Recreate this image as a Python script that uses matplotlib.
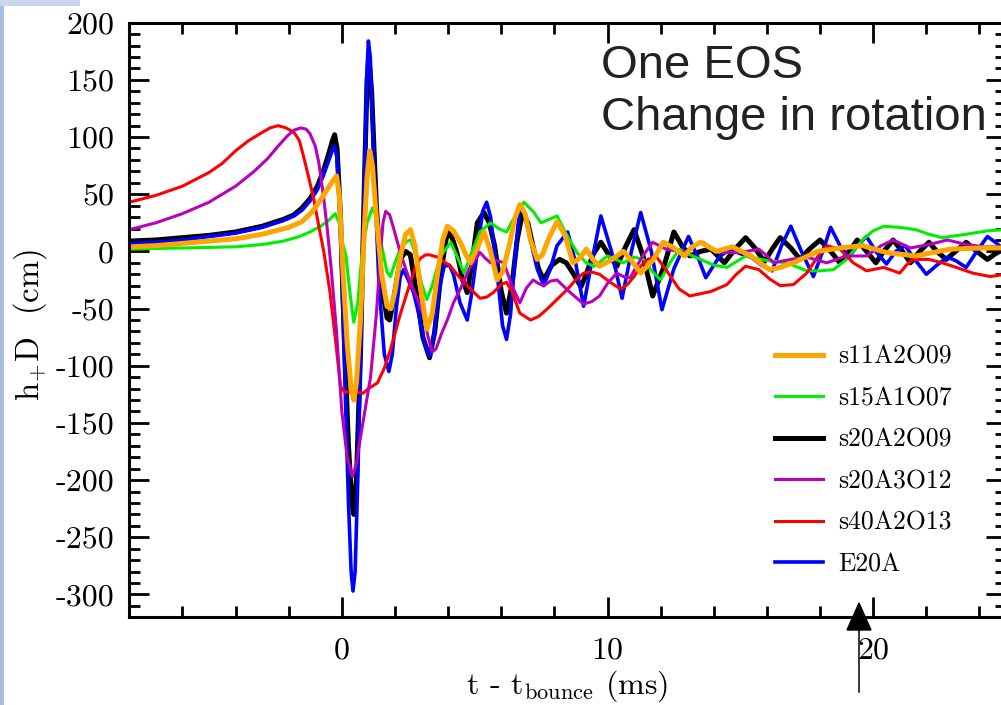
import matplotlib
matplotlib.use('Agg')
import matplotlib.pyplot as plt
from matplotlib.ticker import MultipleLocator
from matplotlib.patches import Polygon, Rectangle
from matplotlib.lines import Line2D

# ---------------- data: (t in ms, h+D in cm) ----------------
labels = ["s11A2O09", "s15A1O07", "s20A2O09", "s20A3O12", "s40A2O13", "E20A"]

s11A2O09 = [(-8, 4), (-7, 5), (-6, 7), (-5, 9), (-4, 11), (-3, 15), (-2, 21), (-1.5, 26),
            (-1.1, 35), (-0.8, 45), (-0.5, 56), (-0.3, 63), (-0.2, 66), (-0.1, 50), (0.05, -20),
            (0.2, -80), (0.35, -120), (0.45, -130), (0.55, -115), (0.7, -60), (0.85, 20),
            (0.95, 65), (1.05, 88), (1.15, 75), (1.3, 30), (1.5, -20), (1.7, -48), (1.85, -50),
            (2.0, -35), (2.2, -5), (2.4, 15), (2.58, 19), (2.75, 5), (2.95, -30), (3.2, -68),
            (3.4, -55), (3.6, -20), (3.8, 10), (3.97, 22), (4.2, 18), (4.46, 8), (4.65, -2),
            (4.84, -10), (5.1, 3), (5.35, 17), (5.6, 0), (5.85, -25), (6.05, -18), (6.3, 5),
            (6.5, 28), (6.7, 41), (6.9, 33), (7.1, 10), (7.35, -7), (7.55, -3), (7.8, 12),
            (8.1, 26), (8.4, 14), (8.7, -10), (8.95, -6), (9.2, 2), (9.45, -7), (9.7, -13),
            (10.1, -8), (10.6, 0), (10.9, -8), (11.25, -19), (11.7, -8), (12.1, 8), (12.5, 3),
            (12.9, -4), (13.2, 4), (13.5, 8), (14.1, 0), (14.7, 4), (15.4, -4), (16.1, -16),
            (16.5, -14), (17.0, -10), (17.9, 0), (18.75, 3), (19.6, 5), (20.5, -1), (21.6, -4),
            (22.9, 2), (24.1, 3), (25, 3)]

s15A1O07 = [(-8, 2), (-6, 3), (-4, 4), (-3, 6), (-2.2, 9), (-1.6, 13), (-1.2, 17), (-0.8, 22),
            (-0.5, 27), (-0.25, 33), (-0.1, 25), (0.05, 5), (0.15, -3), (0.3, -35), (0.45, -62),
            (0.6, -45), (0.75, -5), (0.95, 25), (1.15, 38), (1.3, 30), (1.5, 5), (1.7, -18),
            (1.83, -22), (2.0, -10), (2.2, 2), (2.45, 9), (2.6, 10), (2.8, -5), (3.0, -28),
            (3.2, -42), (3.4, -30), (3.7, -5), (4.1, 8), (4.35, -5), (4.6, -19), (4.9, 0),
            (5.2, 17), (5.6, 25), (5.9, 20), (6.2, 17), (6.5, 30), (6.85, 43), (7.2, 35),
            (7.5, 25), (7.8, 28), (8.1, 31), (8.45, 15), (8.85, -1), (9.2, -10), (9.5, -13),
            (10.0, -4), (10.6, -10), (11.0, -5), (11.35, -7), (11.7, -18), (12.0, -25),
            (12.35, -10), (12.7, 2), (13.1, -3), (13.5, -7), (14.0, -12), (14.5, -14),
            (15.2, -4), (16.0, -8), (16.75, -10), (17.5, -17), (18.0, -17), (18.5, -16),
            (19.0, -7), (19.6, 10), (20.0, 18), (20.4, 22), (21.0, 21), (21.6, 19), (22.1, 15),
            (22.6, 12), (23.5, 15), (24.3, 18), (25, 19)]

s20A2O09 = [(-8, 9), (-7, 10), (-6, 12), (-5, 14), (-4, 17), (-3, 22), (-2.2, 28), (-1.8, 32),
            (-1.5, 38), (-1.2, 46), (-0.92, 57), (-0.7, 70), (-0.5, 85), (-0.35, 97),
            (-0.27, 102), (-0.18, 90), (-0.05, 30), (0.1, -80), (0.25, -170), (0.38, -220),
            (0.45, -230), (0.55, -200), (0.7, -90), (0.85, 60), (0.95, 150), (1.02, 170),
            (1.12, 140), (1.3, 40), (1.5, -30), (1.7, -58), (1.8, -60), (2.0, -35), (2.2, -7),
            (2.4, 0), (2.58, -3), (2.8, -35), (3.05, -75), (3.3, -93), (3.5, -70), (3.75, -15),
            (3.97, 17), (4.15, 12), (4.33, -1), (4.55, -25), (4.72, -36), (4.9, -10), (5.1, 25),
            (5.35, 34), (5.55, 25), (5.75, 5), (6.0, -35), (6.2, -54), (6.4, -30), (6.6, 10),
            (6.8, 34), (7.0, 25), (7.2, 4), (7.4, -15), (7.6, -25), (7.9, -12), (8.2, -7),
            (8.45, -10), (8.7, -19), (9.0, -31), (9.2, -20), (9.45, -3), (9.75, 8), (10.05, -3),
            (10.35, -13), (10.7, 5), (11.0, 19), (11.35, -5), (11.7, -39), (12.1, -15),
            (12.5, 17), (12.8, 5), (13.1, -4), (13.5, 0), (13.9, 2), (14.4, -10), (14.8, 2),
            (15.2, 12), (15.55, 3), (15.9, -9), (16.2, 2), (16.5, 12), (16.9, 3), (17.25, -7),
            (17.6, 2), (18.0, 10), (18.4, 0), (18.75, -10), (19.1, 0), (19.4, 10), (19.75, 0),
            (20.1, -10), (20.4, 0), (20.75, 10), (21.1, 0), (21.4, -10), (21.75, 0), (22.1, 8),
            (22.4, 0), (22.75, -7), (23.1, 0), (23.5, 8), (23.9, 0), (24.3, -7), (24.6, -2),
            (25, 3)]

s20A3O12 = [(-8, 19), (-7, 25), (-6, 33), (-5, 43), (-4, 57), (-3.3, 70), (-2.8, 81),
            (-2.4, 92), (-2.05, 101), (-1.8, 106), (-1.55, 108), (-1.35, 107), (-1.2, 103),
            (-1.0, 92), (-0.87, 78), (-0.7, 50), (-0.55, 20), (-0.4, -15), (-0.2, -70),
            (0.0, -140), (0.2, -180), (0.4, -197), (0.55, -185), (0.7, -163), (0.9, -135),
            (1.08, -110), (1.3, -55), (1.46, 0), (1.55, 25), (1.65, 35), (1.8, 32), (1.95, 20),
            (2.2, -1), (2.4, -15), (2.58, -27), (2.85, -42), (3.08, -57), (3.25, -75),
            (3.4, -88), (3.55, -85), (3.75, -72), (3.97, -60), (4.2, -45), (4.46, -33),
            (4.8, -15), (5.2, -1), (5.4, -6), (5.6, -10), (5.85, -8), (6.1, -10), (6.4, -30),
            (6.7, -45), (6.95, -32), (7.2, -25), (7.4, -28), (7.6, -30), (7.85, -26),
            (8.1, -25), (8.6, -36), (9.1, -46), (9.4, -44), (9.7, -39), (10.0, -28),
            (10.35, -19), (10.6, -22), (10.85, -23), (11.3, -5), (11.7, 8), (12.2, 2),
            (12.9, -1), (13.25, 5), (13.6, 8), (13.9, 3), (14.25, -1), (15.0, -1), (15.7, 2),
            (16.0, -4), (16.25, -10), (16.9, -7), (17.5, -5), (18.25, -10), (19.0, -4),
            (19.75, -4), (20.3, 5), (20.75, 10), (21.4, 3), (22.1, 6), (22.8, 10), (23.5, 6),
            (24.2, 4), (25, 4)]

s40A2O13 = [(-8, 43), (-7, 49), (-6, 57), (-5, 69), (-4.5, 77), (-4, 88), (-3.5, 97), (-3, 104),
            (-2.7, 108), (-2.4, 110), (-2.1, 108), (-1.8, 104), (-1.6, 97), (-1.43, 82),
            (-1.25, 65), (-1.05, 45), (-0.85, 20), (-0.68, 0), (-0.45, -35), (-0.25, -75),
            (-0.05, -118), (0.1, -123), (0.4, -123), (0.8, -124), (1.0, -120), (1.34, -115),
            (1.6, -102), (1.83, -86), (2.2, -55), (2.58, -27), (2.8, -12), (2.96, -6),
            (3.15, -3), (3.3, -3), (3.6, -5), (4.09, -13), (4.4, -22), (4.72, -30), (5.2, -41),
            (5.45, -40), (5.7, -36), (6.0, -29), (6.2, -27), (6.4, -35), (6.7, -54), (7.1, -60),
            (7.4, -57), (7.7, -51), (8.1, -42), (8.5, -33), (8.8, -25), (9.1, -19), (9.4, -18),
            (9.7, -20), (10.1, -27), (10.5, -33), (10.75, -29), (11.0, -22), (11.25, -13),
            (11.5, -7), (11.85, -5), (12.2, -16), (12.7, -33), (13.1, -39), (13.5, -37),
            (13.9, -35), (14.5, -29), (14.85, -20), (15.2, -13), (15.7, -16), (16.1, -24),
            (16.5, -30), (17.0, -29), (17.5, -19), (17.9, -5), (18.25, 5), (18.75, 2),
            (19.25, -10), (19.75, -17), (20.4, -14), (21.0, -19), (21.25, -12), (21.5, -7),
            (22.1, -7), (22.6, -10), (23.0, -13), (23.75, -19), (24.4, -22), (25, -20)]

E20A = [(-8, 7), (-7, 8), (-6, 10), (-5, 13), (-4, 16), (-3, 21), (-2.2, 27), (-1.8, 31),
        (-1.5, 36), (-1.2, 44), (-0.92, 54), (-0.7, 66), (-0.5, 79), (-0.35, 89), (-0.27, 92),
        (-0.18, 82), (-0.05, 20), (0.1, -100), (0.25, -220), (0.35, -280), (0.42, -297),
        (0.5, -280), (0.6, -200), (0.72, -80), (0.85, 60), (0.95, 160), (1.0, 184),
        (1.07, 170), (1.2, 80), (1.4, -30), (1.6, -90), (1.77, -105), (1.9, -90), (2.05, -50),
        (2.2, -22), (2.33, -16), (2.5, -25), (2.7, -36), (2.9, -55), (3.1, -80), (3.3, -92),
        (3.45, -75), (3.65, -35), (3.85, -13), (4.05, -12), (4.2, -20), (4.45, -45),
        (4.72, -60), (4.9, -35), (5.1, 0), (5.3, 35), (5.45, 43), (5.6, 30), (5.85, -20),
        (6.05, -65), (6.2, -77), (6.35, -55), (6.5, -10), (6.7, 40), (6.85, 35), (7.1, 10),
        (7.35, -15), (7.6, -30), (7.85, -15), (8.1, 5), (8.5, 17), (8.8, -10), (9.1, -48),
        (9.4, -10), (9.75, 31), (10.15, 0), (10.55, -41), (10.9, 0), (11.25, 34), (11.65, 0),
        (12.05, -51), (12.5, -15), (13.05, 13), (13.4, -5), (13.7, -23), (14.2, -5),
        (14.6, 2), (15.0, -2), (15.4, -5), (15.8, -12), (16.2, -17), (16.55, 5), (16.9, 22),
        (17.3, 0), (17.75, -22), (18.1, 0), (18.4, 21), (18.75, 5), (19.1, -5), (19.4, 5),
        (19.75, 13), (20.1, 0), (20.5, -11), (20.85, 0), (21.2, 5), (21.6, -8), (22.0, -20),
        (22.4, -12), (22.8, -5), (23.1, -8), (23.5, -14), (23.9, 0), (24.3, 13), (24.6, 8),
        (25, 0)]

x_ticks = [0, 10, 20]
y_ticks = [-300, -250, -200, -150, -100, -50, 0, 50, 100, 150, 200]

# ---------------- figure ----------------
plt.rcParams['mathtext.fontset'] = 'cm'
plt.rcParams['axes.unicode_minus'] = False
plt.rcParams['font.family'] = ['cmr10', 'DejaVu Serif']

W, H = 1001, 705
fig = plt.figure(figsize=(W / 100, H / 100), dpi=100)
ax = fig.add_axes([129.3 / W, 1 - 617.3 / H, (1006 - 129.3) / W, (617.3 - 22.7) / H])

series = [
    (s20A2O09, 'black', 3.6, labels[2]),
    (E20A, '#0000ff', 2.6, labels[5]),
    (s15A1O07, '#00ee00', 2.2, labels[1]),
    (s40A2O13, '#ff0000', 2.2, labels[4]),
    (s20A3O12, '#bb00bb', 2.2, labels[3]),
    (s11A2O09, '#ffa500', 3.6, labels[0]),
]
handles = {}
for data, c, lw, lab in series:
    t = [p[0] for p in data]
    h = [p[1] for p in data]
    ln, = ax.plot(t, h, color=c, lw=lw, label=lab, solid_joinstyle='round')
    handles[lab] = ln

ax.set_xlim(-8, 25)
ax.set_ylim(-320, 200)

for sp in ax.spines.values():
    sp.set_linewidth(2.2)

ax.set_xticks(x_ticks)
ax.set_xticklabels([str(v) for v in x_ticks])
ax.set_yticks(y_ticks)
ax.set_yticklabels([str(v) for v in y_ticks])
ax.xaxis.set_minor_locator(MultipleLocator(2))
ax.yaxis.set_minor_locator(MultipleLocator(10))
ax.tick_params(which='both', direction='in', top=True, right=True, width=2.0)
ax.tick_params(which='major', length=14.5)
ax.tick_params(which='minor', length=8)
ax.tick_params(axis='y', which='major', labelsize=23, pad=11)
ax.tick_params(axis='x', which='major', labelsize=23, pad=14)

leg = ax.legend([handles[l] for l in labels], labels, loc='upper left',
                bbox_to_anchor=(775 / W, 1 - 345 / H), bbox_transform=fig.transFigure,
                frameon=False, fontsize=18.5, handlelength=1.85, handletextpad=0.6,
                labelspacing=0.69, borderpad=0.0, borderaxespad=0.0)

fig.text(30 / W, 1 - 325 / H, r'h$_{+}$D  (cm)', rotation=90, ha='center', va='center',
         fontsize=23.5)
fig.text(567 / W, 1 - 686 / H, r't - t$_{\mathrm{bounce}}$ (ms)', ha='center', va='center',
         fontsize=23)

fig.text(601 / W, 1 - 78 / H, 'One EOS', ha='left', va='baseline', fontsize=34,
         family='Liberation Sans', color='#222222')
fig.text(601 / W, 1 - 130 / H, 'Change in rotation', ha='left', va='baseline', fontsize=34,
         family='Liberation Sans', color='#222222')

# arrow annotation on the slide
def fx(x):
    return x / W

def fy(y):
    return 1 - y / H

fig.add_artist(Line2D([fx(859), fx(859)], [fy(628), fy(692)], color='black', lw=1.1,
                      transform=fig.transFigure))
fig.add_artist(Polygon([[fx(859), fy(603)], [fx(847), fy(630)], [fx(871), fy(630)]],
                       closed=True, color='black', transform=fig.transFigure))

# slide border strips
fig.add_artist(Rectangle((0, 0), 4 / W, 1, color='#a9bde0', transform=fig.transFigure,
                         lw=0))
fig.add_artist(Rectangle((0, 1 - 6 / H), 80 / W, 6 / H, color='#c9d6ee',
                         transform=fig.transFigure, lw=0))

fig.savefig('out.png', dpi=100)
